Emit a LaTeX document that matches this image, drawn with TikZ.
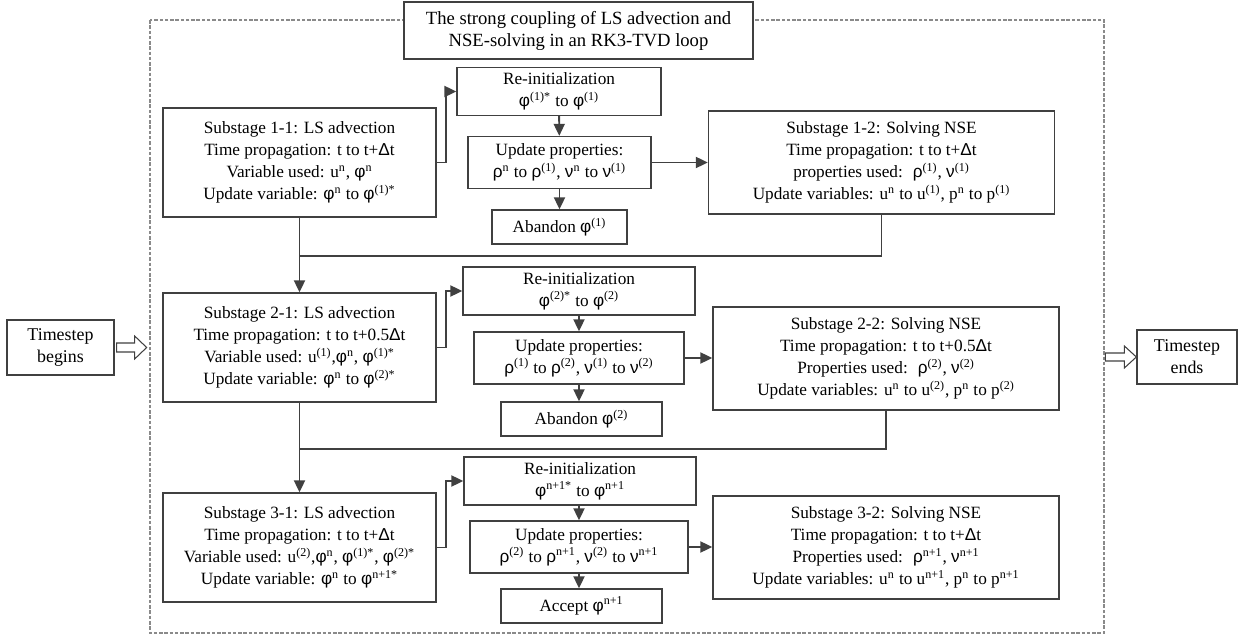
\documentclass[tikz,border=0pt]{standalone}
\usepackage{fontspec}
\setmainfont{Liberation Serif}
\newfontfamily\grkfont{Liberation Sans}
\usetikzlibrary{arrows.meta}

\definecolor{linegray}{HTML}{404040}
\definecolor{framegray}{HTML}{8A8A8A}

\newcommand{\gphi}{{\grkfont φ}}
\newcommand{\grho}{{\grkfont ρ}}
\newcommand{\gnu}{{\grkfont ν}}
\newcommand{\gDelta}{{\grkfont Δ}}
\newcommand{\supx}[1]{\textsuperscript{#1}}

\tikzset{
  plainbox/.style={draw=linegray, line width=0.75pt, align=center, inner sep=1pt,
    font=\fontsize{9.8}{12.5}\selectfont},
  stagebox/.style={plainbox, minimum width=5.46cm, minimum height=2.18cm},
  nsebox/.style={plainbox, minimum width=6.92cm, minimum height=2.06cm},
  reinitbox/.style={plainbox, minimum width=4.64cm, minimum height=0.96cm},
  propbox/.style={plainbox, minimum height=1.04cm},
  endbox/.style={plainbox, minimum width=3.22cm, minimum height=0.68cm},
  conn/.style={draw=linegray, line width=1.1pt, -{Triangle[length=0.24cm,width=0.22cm]}},
  loopline/.style={draw=linegray, line width=1.1pt},
  blockarrow/.style={draw=linegray, line width=0.6pt, fill=white},
}

\begin{document}
\begin{tikzpicture}
  %\draw[help lines,xstep=1,ystep=1] (0,-13) grid (25,0);
  \useasboundingbox (0,0) rectangle (25.08,-12.74);
  \draw[framegray, line width=0.6pt, dash pattern=on 2pt off 1pt] (3.0,-0.40) rectangle (22.08,-12.66);
  \node[plainbox, fill=white, minimum width=6.98cm, minimum height=1.14cm, font=\fontsize{10.6}{12.5}\selectfont]
    (title) at (11.57,-0.61) {The strong coupling of LS advection and\\NSE-solving in an RK3-TVD loop};

  \node[plainbox, minimum width=2.14cm, minimum height=1.10cm, font=\fontsize{10.2}{12.5}\selectfont]
    (tsb) at (1.21,-6.95) {Timestep\\begins};
  \node[plainbox, minimum width=2.0cm, minimum height=1.08cm, font=\fontsize{10.2}{12.5}\selectfont]
    (tse) at (23.74,-7.14) {Timestep\\ends};

  % substage 1
  \node[stagebox] (s11) at (5.99,-3.25) {Substage 1-1: LS advection\\Time propagation: t to t+\gDelta t\\
    Variable used: u\supx{n}, \gphi\supx{n}\\Update variable: \gphi\supx{n} to \gphi\supx{(1)*}};
  \node[reinitbox, minimum width=4.08cm] (r1) at (11.18,-1.83) {Re-initialization\\\gphi\supx{(1)*} to \gphi\supx{(1)}};
  \node[propbox, minimum width=3.66cm] (u1) at (11.19,-3.25) {Update properties:\\
    \grho\supx{n} to \grho\supx{(1)}, \gnu\supx{n} to \gnu\supx{(1)}};
  \node[endbox, minimum width=2.70cm] (a1) at (11.19,-4.54) {Abandon \gphi\supx{(1)}};
  \node[nsebox] (s12) at (17.63,-3.25) {Substage 1-2: Solving NSE\\Time propagation: t to t+\gDelta t\\
    properties used:~ \grho\supx{(1)}, \gnu\supx{(1)}\\Update variables: u\supx{n} to u\supx{(1)}, p\supx{n} to p\supx{(1)}};

  % substage 2
  \node[stagebox] (s21) at (5.99,-6.95) {Substage 2-1: LS advection\\Time propagation: t to t+0.5\gDelta t\\
    Variable used: u\supx{(1)},\gphi\supx{n}, \gphi\supx{(1)*}\\Update variable: \gphi\supx{n} to \gphi\supx{(2)*}};
  \node[reinitbox] (r2) at (11.58,-5.82) {Re-initialization\\\gphi\supx{(2)*} to \gphi\supx{(2)}};
  \node[propbox, minimum width=4.20cm] (u2) at (11.58,-7.16) {Update properties:\\
    \grho\supx{(1)} to \grho\supx{(2)}, \gnu\supx{(1)} to \gnu\supx{(2)}};
  \node[endbox] (a2) at (11.63,-8.38) {Abandon \gphi\supx{(2)}};
  \node[nsebox] (s22) at (17.72,-7.17) {Substage 2-2: Solving NSE\\Time propagation: t to t+0.5\gDelta t\\
    Properties used:~ \grho\supx{(2)}, \gnu\supx{(2)}\\Update variables: u\supx{n} to u\supx{(2)}, p\supx{n} to p\supx{(2)}};

  % substage 3
  \node[stagebox] (s31) at (5.99,-10.95) {Substage 3-1: LS advection\\Time propagation: t to t+\gDelta t\\
    Variable used: u\supx{(2)},\gphi\supx{n}, \gphi\supx{(1)*}, \gphi\supx{(2)*}\\Update variable: \gphi\supx{n} to \gphi\supx{n+1*}};
  \node[reinitbox] (r3) at (11.60,-9.62) {Re-initialization\\\gphi\supx{n+1*} to \gphi\supx{n+1}};
  \node[propbox, minimum width=4.36cm] (u3) at (11.58,-10.94) {Update properties:\\
    \grho\supx{(2)} to \grho\supx{n+1}, \gnu\supx{(2)} to \gnu\supx{n+1}};
  \node[endbox] (acc) at (11.63,-12.12) {Accept \gphi\supx{n+1}};
  \node[nsebox] (s32) at (17.72,-10.95) {Substage 3-2: Solving NSE\\Time propagation: t to t+\gDelta t\\
    Properties used:~ \grho\supx{n+1}, \gnu\supx{n+1}\\Update variables: u\supx{n} to u\supx{n+1}, p\supx{n} to p\supx{n+1}};

  \coordinate (m1) at (5.99,-5.12);
  \coordinate (m2) at (5.99,-8.98);

  % arrows inside each substage
  \draw[conn] (s11.east) -- ++(0.18,0) |- (r1.west);
  \draw[conn] (r1) -- (u1);
  \draw[conn] (u1) -- (a1);
  \draw[conn] (u1) -- (s12);
  \draw[conn] (s21.east) -- ++(0.18,0) |- (r2.west);
  \draw[conn] (r2.south -| u2.north) -- (u2.north);
  \draw[conn] (u2.south) -- (u2.south |- a2.north);
  \draw[conn] (u2) -- (u2 -| s22.west);
  \draw[conn] (s31.east) -- ++(0.18,0) |- (r3.west);
  \draw[conn] (r3.south -| u3.north) -- (u3.north);
  \draw[conn] (u3.south) -- (u3.south |- acc.north);
  \draw[conn] (u3) -- (u3 -| s32.west);

  % from one substage to the next
  \draw[conn] (s11) -- (s21);
  \draw[loopline] (s12.south) |- (m1);
  \draw[conn] (s21) -- (s31);
  \draw[loopline] (s22.south) |- (m2);

  % timestep in and out
  \draw[blockarrow] ([xshift=0.04cm,yshift=0.09cm]tsb.east) -- ++(0.36,0) -- ++(0,0.14)
    -- ++(0.24,-0.23) -- ++(-0.24,-0.23) -- ++(0,0.14) -- ++(-0.36,0) -- cycle;
  \draw[blockarrow] ([xshift=-0.62cm,yshift=0.08cm]tse.west) -- ++(0.38,0) -- ++(0,0.14)
    -- ++(0.24,-0.22) -- ++(-0.24,-0.22) -- ++(0,0.14) -- ++(-0.38,0) -- cycle;
\end{tikzpicture}
\end{document}
